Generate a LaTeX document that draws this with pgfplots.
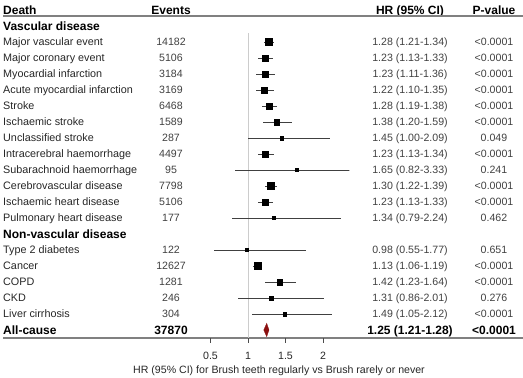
\documentclass[border=0pt]{standalone}
\usepackage{pgfplots}
\pgfplotsset{compat=1.18}
\usepackage{pgfplotstable}
\usepackage{fontspec}
\setmainfont{Liberation Sans}
\definecolor{txt}{HTML}{262626}
\definecolor{num}{HTML}{404040}
\definecolor{dred}{HTML}{8B1010}

\pgfplotstableread{
row hr lo hi ms
2 1.28 1.21 1.34 3.5
3 1.23 1.13 1.33 3.1
4 1.23 1.11 1.36 3.2
5 1.22 1.10 1.35 3.1
6 1.28 1.19 1.38 3.2
7 1.38 1.20 1.59 2.8
8 1.45 1.00 2.09 1.8
9 1.23 1.13 1.34 3.0
10 1.65 0.82 3.33 1.6
11 1.30 1.22 1.39 3.4
12 1.23 1.13 1.33 3.1
13 1.34 0.79 2.24 1.7
15 0.98 0.55 1.77 1.7
16 1.13 1.06 1.19 3.5
17 1.42 1.23 1.64 2.8
18 1.31 0.86 2.01 1.8
19 1.49 1.05 2.12 1.8
}\est

\newcommand{\rowtxt}[5]{%
  \node[lab] at (axis cs:3,-#1) {#2};
  \node[cnum] at (axis cs:171,-#1) {#3};
  \node[cnum] at (axis cs:410,-#1) {#4};
  \node[cnum] at (axis cs:494,-#1) {#5};
}

\begin{document}
\begin{tikzpicture}[
  lab/.style={anchor=west, inner sep=0pt, text height=7.8bp, text depth=0pt, font=\fontsize{10.8bp}{13bp}\selectfont, text=txt},
  cnum/.style={anchor=center, inner sep=0pt, text height=7.5bp, text depth=0pt, font=\fontsize{10.6bp}{12bp}\selectfont, text=num},
  hdl/.style={anchor=west, inner sep=0pt, text height=8.6bp, text depth=0pt, font=\fontsize{12bp}{14bp}\selectfont\bfseries, text=black},
  hdc/.style={anchor=center, inner sep=0pt, text height=8.6bp, text depth=0pt, font=\fontsize{12bp}{14bp}\selectfont\bfseries, text=black},
]
\begin{axis}[name=outer, at={(0,0)}, anchor=south west, scale only axis,
  width=523bp, height=378bp, xmin=0, xmax=523, ymin=-23, ymax=0.625,
  hide axis, clip=false]
  % header
  \node[hdl] at (axis cs:3,0) {Death};
  \node[hdc] at (axis cs:171,0) {Events};
  \node[hdc] at (axis cs:410,0) {HR (95\% CI)};
  \node[hdc] at (axis cs:494,0) {P-value};
  \draw[black!50, line width=1.6bp] (axis cs:3,-0.375) -- (axis cs:523,-0.375);
  \node[hdl] at (axis cs:3,-1) {Vascular disease};
  \rowtxt{2}{Major vascular event}{14182}{1.28 (1.21-1.34)}{<0.0001}
  \rowtxt{3}{Major coronary event}{5106}{1.23 (1.13-1.33)}{<0.0001}
  \rowtxt{4}{Myocardial infarction}{3184}{1.23 (1.11-1.36)}{<0.0001}
  \rowtxt{5}{Acute myocardial infarction}{3169}{1.22 (1.10-1.35)}{<0.0001}
  \rowtxt{6}{Stroke}{6468}{1.28 (1.19-1.38)}{<0.0001}
  \rowtxt{7}{Ischaemic stroke}{1589}{1.38 (1.20-1.59)}{<0.0001}
  \rowtxt{8}{Unclassified stroke}{287}{1.45 (1.00-2.09)}{0.049}
  \rowtxt{9}{Intracerebral haemorrhage}{4497}{1.23 (1.13-1.34)}{<0.0001}
  \rowtxt{10}{Subarachnoid haemorrhage}{95}{1.65 (0.82-3.33)}{0.241}
  \rowtxt{11}{Cerebrovascular disease}{7798}{1.30 (1.22-1.39)}{<0.0001}
  \rowtxt{12}{Ischaemic heart disease}{5106}{1.23 (1.13-1.33)}{<0.0001}
  \rowtxt{13}{Pulmonary heart disease}{177}{1.34 (0.79-2.24)}{0.462}
  \node[hdl] at (axis cs:3,-14) {Non-vascular disease};
  \rowtxt{15}{Type 2 diabetes}{122}{0.98 (0.55-1.77)}{0.651}
  \rowtxt{16}{Cancer}{12627}{1.13 (1.06-1.19)}{<0.0001}
  \rowtxt{17}{COPD}{1281}{1.42 (1.23-1.64)}{<0.0001}
  \rowtxt{18}{CKD}{246}{1.31 (0.86-2.01)}{0.276}
  \rowtxt{19}{Liver cirrhosis}{304}{1.49 (1.05-2.12)}{<0.0001}
  \node[hdl] at (axis cs:3,-20) {All-cause};
  \node[hdc] at (axis cs:171,-20) {37870};
  \node[hdc] at (axis cs:410,-20) {1.25 (1.21-1.28)};
  \node[hdc] at (axis cs:494,-20) {<0.0001};
  \draw[black!50, line width=1.6bp] (axis cs:3,-20.5) -- (axis cs:523,-20.5);
  \node[cnum, text=txt] at (axis cs:279,-22.5) {HR (95\% CI) for Brush teeth regularly vs Brush rarely or never};
\end{axis}
\begin{axis}[at={(outer.north west)}, anchor=north west, xshift=195.5bp,
  scale only axis, width=153.75bp, height=338bp,
  xmin=0.3, xmax=2.35, ymin=-20.5, ymax=0.625,
  axis x line*=bottom, axis y line=none,
  x axis line style={draw=none},
  xtick={0.5,1,1.5,2}, xticklabels={0.5,1,1.5,2},
  tick align=outside, major tick length=5bp,
  tick style={black!70, line width=0.8bp},
  xticklabel style={font=\fontsize{10.6bp}{12bp}\selectfont, text=txt, yshift=-5.5bp},
  /pgf/number format/assume math mode=true,
  clip=true]
  \addplot[black!20, line width=0.8bp] coordinates {(1,-1.45) (1,-20.5)};
  \addplot[draw=none, mark=none,
    error bars/.cd, x dir=both, x explicit,
    error bar style={black!75, line width=0.8bp}, error mark=none]
    table[x=hr, y expr=-\thisrow{row},
      x error plus expr=\thisrow{hi}-\thisrow{hr},
      x error minus expr=\thisrow{hr}-\thisrow{lo}] {\est};
  \addplot[scatter, only marks, mark=square*,
    scatter/use mapped color={draw=black, fill=black},
    visualization depends on={\thisrow{ms}\as\ms},
    scatter/@pre marker code/.append style={/tikz/mark size=\ms}]
    table[x=hr, y expr=-\thisrow{row}] {\est};
  \addplot[fill=dred, draw=dred, line width=0.3bp] coordinates {(1.21,-20) (1.25,-19.58) (1.28,-20) (1.25,-20.42) (1.21,-20)};
\end{axis}
\pgfresetboundingbox
\path[use as bounding box] (outer.south west) rectangle (outer.north east);
\end{tikzpicture}
\end{document}
